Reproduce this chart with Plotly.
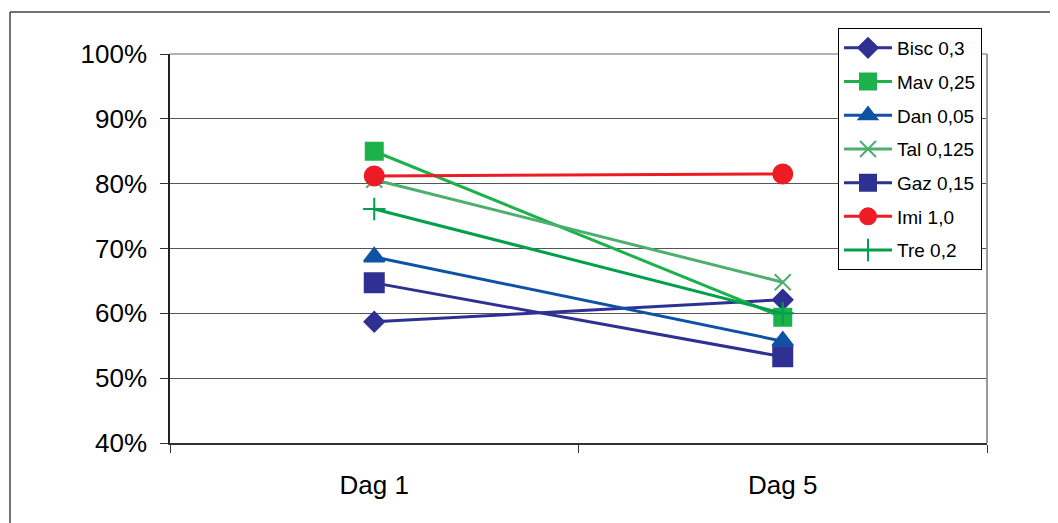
import plotly.graph_objects as go

categories = ["Dag 1", "Dag 5"]
series_names = ["Bisc 0,3", "Mav 0,25", "Dan 0,05", "Tal 0,125", "Gaz 0,15", "Imi 1,0", "Tre 0,2"]
bisc = [0.587, 0.621]
mav = [0.850, 0.594]
dan = [0.687, 0.557]
tal = [0.806, 0.648]
gaz = [0.647, 0.533]
imi = [0.812, 0.815]
tre = [0.761, 0.600]
y_ticks = [0.4, 0.5, 0.6, 0.7, 0.8, 0.9, 1.0]

styles = [
    dict(color="#2E3192", symbol="diamond", size=15),
    dict(color="#1DB14B", symbol="square", size=17),
    dict(color="#0F52A5", symbol="triangle-up", size=18),
    dict(color="#4DAE6E", symbol="x-thin", size=16),
    dict(color="#2E3192", symbol="square", size=19),
    dict(color="#ED1C24", symbol="circle", size=19),
    dict(color="#00A04B", symbol="cross-thin", size=16),
]
values = [bisc, mav, dan, tal, gaz, imi, tre]

W, H = 1050, 515
L, R, T, B = 162, 71, 46, 80
pw, ph = W - L - R, H - T - B

fig = go.Figure()
for i, (name, vals, st) in enumerate(zip(series_names, values, styles)):
    fig.add_trace(go.Scatter(
        x=categories, y=vals, name=name, mode="lines+markers",
        legendgroup=f"g{i}",
        line=dict(color=st["color"], width=3),
        marker=dict(symbol=st["symbol"], size=st["size"], color=st["color"],
                    line=dict(color=st["color"], width=2)),
    ))

fig.update_layout(
    width=W, height=H,
    margin=dict(l=L, r=R, t=T, b=B),
    paper_bgcolor="white", plot_bgcolor="white",
    font=dict(family="Liberation Sans, Arial, sans-serif", color="black"),
    showlegend=True,
    legend=dict(x=(830 - L) / pw, y=(T + ph - 20) / ph, xanchor="left", yanchor="top",
                bordercolor="black", borderwidth=1, bgcolor="white",
                font=dict(size=19), traceorder="grouped", tracegroupgap=6,
                itemwidth=48),
    xaxis=dict(type="category", tickson="boundaries", ticks="outside", ticklen=8,
               tickcolor="#333", showline=True, linecolor="#333", linewidth=2,
               showgrid=False, tickfont=dict(size=26), range=[-0.5, 1.5],
               ticklabelstandoff=18),
    yaxis=dict(range=[0.4, 1.0], tickvals=y_ticks, tickformat=".0%",
               ticks="outside", ticklen=8, tickcolor="#333",
               showline=True, linecolor="#222", linewidth=1.5,
               showgrid=True, gridcolor="#555", gridwidth=1,
               tickfont=dict(size=26), zeroline=False, ticklabelstandoff=8),
    shapes=[
        dict(type="line", xref="paper", yref="paper", x0=1, x1=1, y0=0, y1=1,
             line=dict(color="#999", width=2)),
        dict(type="line", xref="paper", yref="paper", x0=0, x1=1, y0=1, y1=1,
             line=dict(color="#999", width=1.5)),
        dict(type="line", xref="paper", yref="paper",
             x0=(2 - L) / pw, x1=(W + 10 - L) / pw,
             y0=(T + ph - 4) / ph, y1=(T + ph - 4) / ph,
             line=dict(color="#444", width=1.5)),
        dict(type="line", xref="paper", yref="paper",
             x0=(2 - L) / pw, x1=(2 - L) / pw,
             y0=(T + ph - 4) / ph, y1=-(B + 20) / ph,
             line=dict(color="#444", width=1.5)),
    ],
)

fig.write_html("out.html")
